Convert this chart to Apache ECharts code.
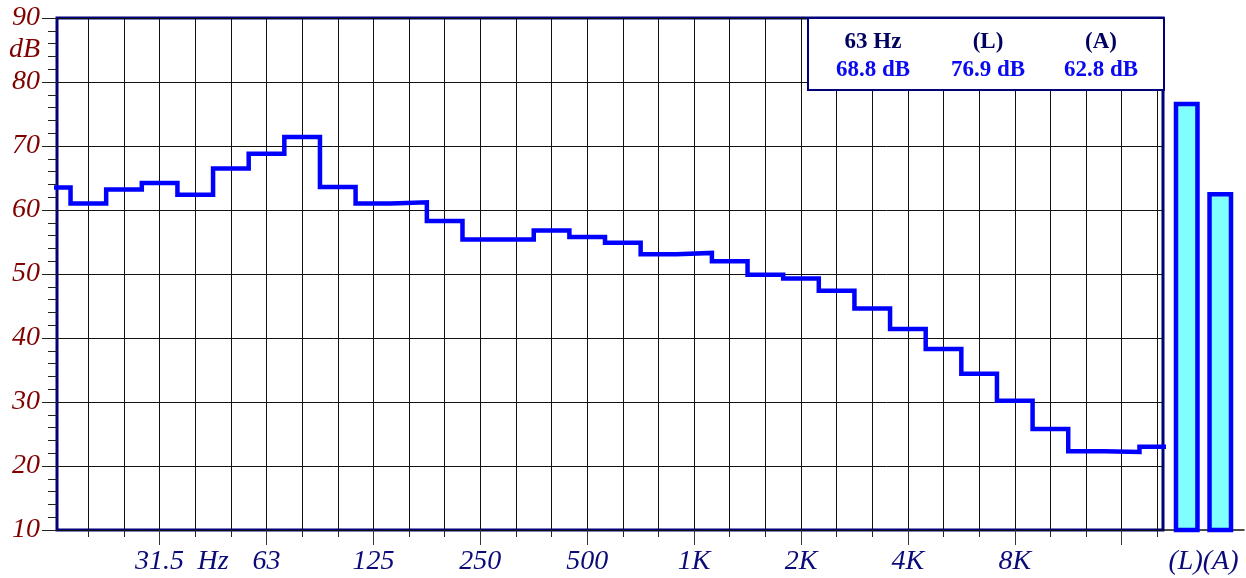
<!DOCTYPE html>
<html>
<head>
<meta charset="utf-8">
<script src="https://cdn.jsdelivr.net/npm/echarts@6/dist/echarts.min.js"></script>
<style>
html,body{margin:0;padding:0;background:#fff}
#main{width:1246px;height:578px}
</style>
</head>
<body>
<div id="main"></div>
<script>
// 1/3 octave bands, 16 Hz .. 20 kHz
var bands = ['16','20','25','31.5','40','50','63','80','100','125','160','200','250','315','400','500',
             '630','800','1K','1.25K','1.6K','2K','2.5K','3.15K','4K','5K','6.3K','8K','10K','12.5K','16K','20K'];
var levels = [63.5,61.0,63.2,64.2,62.4,66.5,68.8,71.4,63.6,61.0,61.2,58.3,55.4,55.4,56.8,55.8,
              54.9,53.1,53.3,52.0,49.9,49.3,47.4,44.6,41.4,38.3,34.4,30.2,25.8,22.3,22.2,23.0];
var totalNames = ['(L)','(A)'];
var totalValues = [76.9, 62.8];
// tick labels (positions in band index)
var xLabelPos  = [3, 4.5, 6, 9, 12, 15, 18, 21, 24, 27];
var xLabelText = ['31.5','Hz','63','125','250','500','1K','2K','4K','8K'];
var octaveTicks = [3,6,9,12,15,18,21,24,27,30];
var bandTicks = [];
for (var k = 1; k < bands.length; k++) bandTicks.push(k);
var yLabelVals = [10,20,30,40,50,60,70,80,85,90];   // 85 carries the unit
var peakIdx = 6;

var serif = '"Liberation Serif", "DejaVu Serif", serif';

// stepped line: each band drawn flat across its width
var stepData = [];
levels.forEach(function (v, i) {
  stepData.push([i - 0.5, v], [i + 0.5, v]);
});

var chart = echarts.init(document.getElementById('main'));

var boxTexts = [
  [bands[peakIdx] + ' Hz', levels[peakIdx]],
  [totalNames[0], totalValues[0]],
  [totalNames[1], totalValues[1]]
];
var colX = [873, 988, 1101];
var graphics = [{
  type: 'rect', z: 100,
  shape: { x: 808, y: 18, width: 356, height: 72 },
  style: { fill: '#fff', stroke: '#00007a', lineWidth: 2 }
}];
boxTexts.forEach(function (t, i) {
  graphics.push({
    type: 'text', z: 101, x: colX[i], y: 42,
    style: { text: t[0], font: 'bold 23px ' + serif, fill: '#00005e', align: 'center', verticalAlign: 'middle' }
  });
  graphics.push({
    type: 'text', z: 101, x: colX[i], y: 70,
    style: { text: t[1].toFixed(1) + ' dB', font: 'bold 23px ' + serif, fill: '#0a0af0', align: 'center', verticalAlign: 'middle' }
  });
});

var labelFont = { fontFamily: serif, fontStyle: 'italic', fontSize: 28 };

var option = {
  animation: false,
  backgroundColor: '#fff',
  grid: [
    { left: 57, right: 83, top: 18, bottom: 48, show: true, borderColor: '#00007a', borderWidth: 3, backgroundColor: 'transparent' },
    { left: 1163, right: 2, top: 18, bottom: 48 }
  ],
  xAxis: [
    {
      type: 'value', gridIndex: 0, min: 0.12, max: 31.16,
      axisLine: { show: false },
      axisTick: { show: true, customValues: bandTicks, length: 7, lineStyle: { color: '#222' } },
      axisLabel: { show: false },
      splitLine: { show: true, lineStyle: { color: '#111', width: 1 } }
    },
    {
      type: 'value', gridIndex: 0, min: 0.12, max: 31.16, position: 'bottom',
      axisLine: { show: false },
      axisTick: { show: true, customValues: octaveTicks, length: 15, lineStyle: { color: '#333' } },
      axisLabel: Object.assign({
        show: true, customValues: xLabelPos, margin: 18, color: '#0a0a78',
        formatter: function (v) {
          var i = xLabelPos.indexOf(v);
          return i >= 0 ? xLabelText[i] : '';
        }
      }, labelFont),
      splitLine: { show: false }
    },
    {
      type: 'category', gridIndex: 1, data: [totalNames.join('')],
      axisLine: { show: true, lineStyle: { color: '#111', width: 1.5 } },
      axisTick: { show: false },
      axisLabel: Object.assign({ margin: 18, color: '#0a0a78' }, labelFont)
    }
  ],
  yAxis: [
    {
      type: 'value', gridIndex: 0, min: 10, max: 90, interval: 10,
      axisLine: { show: false },
      axisTick: { show: true, length: 15, lineStyle: { color: '#222' } },
      minorTick: { show: true, splitNumber: 5, length: 9, lineStyle: { color: '#222' } },
      axisLabel: Object.assign({
        customValues: yLabelVals, margin: 17, color: '#800000',
        formatter: function (v) { return v === 85 ? 'dB' : String(v); }
      }, labelFont),
      splitLine: { show: true, lineStyle: { color: '#111', width: 1 } }
    },
    {
      type: 'value', gridIndex: 1, min: 10, max: 90,
      show: false
    }
  ],
  series: [
    {
      type: 'line', xAxisIndex: 0, yAxisIndex: 0,
      data: stepData, showSymbol: false, clip: true,
      lineStyle: { color: '#0000ff', width: 4.5, join: 'miter', cap: 'butt' },
      z: 5
    }
  ].concat(totalValues.map(function (v, i) {
    return {
      name: totalNames[i], type: 'bar', xAxisIndex: 2, yAxisIndex: 1,
      data: [v], barWidth: 26, barGap: '29%', clip: true,
      itemStyle: { color: '#80ffff', borderColor: '#0000ff', borderWidth: 4.5 }
    };
  })),
  graphic: graphics
};

chart.setOption(option);
</script>
</body>
</html>
